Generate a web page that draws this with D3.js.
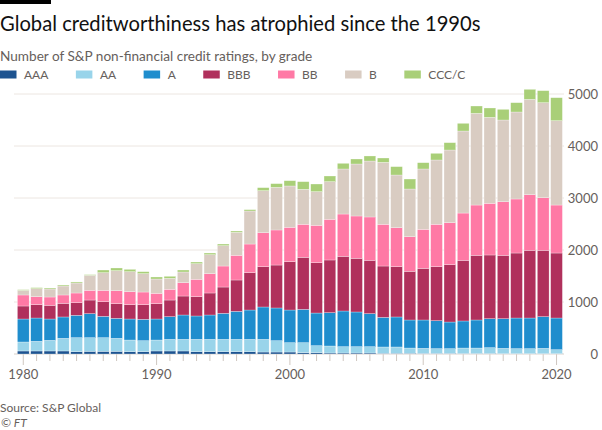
<!DOCTYPE html>
<html><head><meta charset="utf-8">
<script src="https://cdn.jsdelivr.net/npm/d3@7"></script>
<style>
body{margin:0;background:#fff;}
svg{display:block;font-family:Lato, "Noto Sans", sans-serif;}
</style>
</head><body>
<svg id="chart" width="602" height="430"></svg>
<script>
// ---------- data ----------
const years = [1980,1981,1982,1983,1984,1985,1986,1987,1988,1989,
               1990,1991,1992,1993,1994,1995,1996,1997,1998,1999,
               2000,2001,2002,2003,2004,2005,2006,2007,2008,2009,
               2010,2011,2012,2013,2014,2015,2016,2017,2018,2019,2020];
const grades = ["AAA","AA","A","BBB","BB","B","CCC/C"];
const aaa = [58,58,58,58,45,51,51,51,45,45, 58,58,58,45,45,45,45,45,38,38,
             38,26,26,19,19,19,19,13,13,13, 10,10,10,8,8,8,6,6,6,6,6];
const aa  = [173,186,205,243,269,263,263,250,224,211, 211,224,224,237,237,237,237,237,244,218,
             180,192,134,135,122,122,122,122,122,102, 99,93,93,107,107,114,103,97,97,103,77];
const a   = [442,448,410,411,430,462,410,385,404,411, 404,436,468,449,468,500,538,564,622,629,
             628,641,628,641,686,667,635,570,577,539, 545,538,512,520,539,557,570,589,589,609,609];
const bbb = [250,257,263,262,243,262,282,282,276,282, 295,320,365,372,423,506,603,718,775,826,
             930,1000,968,1013,1051,1032,1025,987,967,936, 993,1038,1103,1166,1243,1225,1218,1250,1302,1276,1250];
const bb  = [212,154,160,161,186,186,218,250,250,243, 199,206,257,333,372,404,474,551,654,674,
             660,635,718,782,814,814,834,802,750,666, 750,815,808,910,968,993,1032,1039,1070,1012,923];
const b   = [89,154,154,173,192,289,340,385,384,353, 275,211,205,301,365,391,443,635,808,820,
             795,673,648,724,866,1000,1076,1192,1013,917, 1161,1237,1397,1577,1763,1654,1571,1673,1833,1827,1622];
const ccc = [13,19,19,19,20,13,51,51,45,38, 39,39,38,32,32,32,25,26,58,71,
             102,147,147,109,109,96,97,83,161,192, 121,128,141,148,141,180,205,179,193,231,442];
const yTicks = [0,1000,2000,3000,4000,5000];
const xLabels = [1980,1990,2000,2010,2020];

// ---------- styles ----------
const colors = ["#1d5390","#99d4ea","#1f8dcd","#b0305c","#ff79a5","#d9ccc2","#a9cf78"];
const grey = "#66605c";

const series = [aaa,aa,a,bbb,bb,b,ccc];
const rows = years.map((yr,i)=>{
  const r = {year:yr};
  grades.forEach((g,k)=>r[g]=series[k][i]);
  return r;
});

const svg = d3.select("#chart");

// top rule + titles
svg.append("rect").attr("x",0).attr("y",0).attr("width",51).attr("height",4).attr("fill","#000");
svg.append("text").attr("x",0).attr("y",31).attr("font-size",20.2).attr("fill","#111")
   .text("Global creditworthiness has atrophied since the 1990s");
svg.append("text").attr("x",0).attr("y",61).attr("font-size",13.6).attr("fill",grey)
   .text("Number of S&P non-financial credit ratings, by grade");

// legend
let lx = 0;
grades.forEach((g,k)=>{
  const item = svg.append("g");
  item.append("rect").attr("x",lx).attr("y",70.5).attr("width",16.5).attr("height",8).attr("fill",colors[k]);
  const t = item.append("text").attr("x",lx+24).attr("y",78.8).attr("font-size",12).attr("fill",grey).text(g);
  lx += 24 + t.node().getComputedTextLength() + 27.5;
});

// scales
const x = d3.scaleBand().domain(years).range([16.6, 563.2]).paddingInner(0.12).paddingOuter(0.06);
const y = d3.scaleLinear().domain([0,5000]).range([354,94]);

// gridlines
svg.append("g").selectAll("line").data(yTicks).join("line")
  .attr("x1",14).attr("x2",564).attr("y1",d=>y(d)).attr("y2",d=>y(d))
  .attr("stroke",d=>d===0?"#d8d0c9":"#ece6e1").attr("stroke-width",1);

// y labels (right)
const yAxis = d3.axisRight(y).tickValues(yTicks).tickSize(0).tickPadding(0).tickFormat(d3.format("d"));
const ya = svg.append("g").attr("transform","translate(598,0)").call(yAxis);
ya.select(".domain").remove();
ya.selectAll("text").attr("text-anchor","end").attr("font-size",13).attr("fill",grey)
  .attr("font-family","Lato, sans-serif").attr("dy","0.34em").attr("x",0);

// x ticks
const xa = svg.append("g").attr("transform","translate(0,354)")
  .call(d3.axisBottom(x).tickSize(7).tickFormat(d=>xLabels.includes(d)?d:""));
xa.select(".domain").remove();
xa.selectAll(".tick line").attr("stroke","#cfc7c0").attr("y2",d=>xLabels.includes(d)?11:7);
xa.selectAll(".tick text").attr("y",25).attr("dy",0).attr("font-size",13).attr("fill",grey)
  .attr("font-family","Lato, sans-serif");

// bars
const stacked = d3.stack().keys(grades)(rows);
svg.append("g").selectAll("g").data(stacked).join("g")
  .attr("fill",(d,i)=>colors[i])
  .selectAll("rect").data(d=>d).join("rect")
  .attr("x",d=>x(d.data.year)).attr("width",x.bandwidth())
  .attr("y",d=>y(d[1])).attr("height",d=>y(d[0])-y(d[1]))
  .attr("stroke","#ffffff").attr("stroke-width",0.4).attr("stroke-opacity",0.7);

// source
svg.append("text").attr("x",0).attr("y",412).attr("font-size",12).attr("fill",grey).text("Source: S&P Global");
svg.append("text").attr("x",1).attr("y",427).attr("font-size",12).attr("fill",grey)
   .attr("font-style","italic").text("© FT");
</script>
</body></html>
